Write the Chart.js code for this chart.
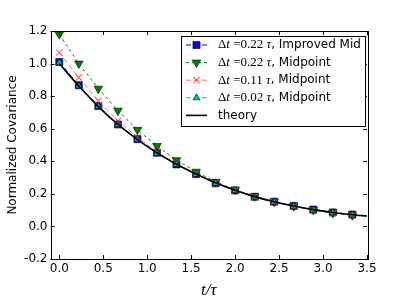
<!DOCTYPE html>
<html>
<head>
<meta charset="utf-8">
<script src="https://cdn.jsdelivr.net/npm/chart.js@4.4.1/dist/chart.umd.min.js"></script>
<style>
  html, body { margin: 0; padding: 0; background: #fff; }
  #wrap { width: 407px; height: 305px; }
</style>
</head>
<body>
<div id="wrap"><canvas id="cov-chart" width="407" height="305"></canvas></div>
<script>
// sample times (units of tau)
const tVals = [0, 0.222, 0.444, 0.667, 0.889, 1.111, 1.333, 1.556, 1.778, 2.0, 2.222, 2.444, 2.667, 2.889, 3.111, 3.333];

const improvedMid = [1.010, 0.867, 0.739, 0.626, 0.536, 0.452, 0.381, 0.321, 0.265, 0.221, 0.182, 0.152, 0.126, 0.103, 0.086, 0.073];
const midCoarse = [1.180, 1.000, 0.846, 0.711, 0.593, 0.494, 0.407, 0.336, 0.274, 0.226, 0.185, 0.152, 0.124, 0.101, 0.083, 0.068];
const midMedium = [1.068, 0.915, 0.771, 0.648, 0.547, 0.458, 0.385, 0.322, 0.266, 0.219, 0.180, 0.148, 0.121, 0.099, 0.082, 0.068];
const midFine = [1.005, 0.863, 0.737, 0.625, 0.533, 0.450, 0.380, 0.320, 0.265, 0.220, 0.181, 0.150, 0.124, 0.102, 0.085, 0.071];

const theoryT = [0, 0.222, 0.444, 0.667, 0.889, 1.111, 1.333, 1.556, 1.778, 2.0, 2.222, 2.444, 2.667, 2.889, 3.111, 3.333, 3.5];
const theory = [1.000, 0.862, 0.736, 0.626, 0.533, 0.452, 0.382, 0.322, 0.268, 0.222, 0.183, 0.151, 0.125, 0.103, 0.086, 0.072, 0.064];

const dtLabels = ["0.22", "0.22", "0.11", "0.02"];
const methods = ["Improved Mid", "Midpoint", "Midpoint", "Midpoint"];

const xTicks = [0, 0.5, 1.0, 1.5, 2.0, 2.5, 3.0, 3.5];
const yTicks = [-0.2, 0.0, 0.2, 0.4, 0.6, 0.8, 1.0, 1.2];

const pts = (xs, ys) => ys.map((y, i) => ({ x: xs[i], y: y }));

const series = [
  { vals: improvedMid, color: "#0000ff", fill: "#0000ff", style: "rect", radius: 5, rot: 0, dash: [5, 3] },
  { vals: midCoarse, color: "#008000", fill: "#008000", style: "triangle", radius: 5, rot: 180, dash: [3, 3] },
  { vals: midMedium, color: "rgba(255,60,60,0.75)", fill: "rgba(255,60,60,0.75)", style: "crossRot", radius: 4.5, rot: 0, dash: [5, 3] },
  { vals: midFine, color: "#00bfbf", fill: "#00bfbf", style: "triangle", radius: 4, rot: 0, dash: [5, 3] },
];

const datasets = series.map((s, i) => ({
  label: "Δt = " + dtLabels[i] + " τ, " + methods[i],
  data: pts(tVals, s.vals),
  borderColor: s.color,
  borderWidth: 1,
  borderDash: s.dash,
  backgroundColor: s.fill,
  pointStyle: s.style,
  pointRadius: s.radius,
  pointRotation: s.rot,
  pointBorderColor: s.style === "crossRot" ? s.color : "#000",
  pointBorderWidth: s.style === "crossRot" ? 1.2 : 0.6,
  pointBackgroundColor: s.fill,
  order: 4 - i,
  _legend: { dt: dtLabels[i], method: methods[i], s: s },
}));

datasets.push({
  label: "theory",
  data: pts(theoryT, theory),
  borderColor: "#000",
  borderWidth: 1.6,
  pointRadius: 0,
  cubicInterpolationMode: "monotone",
  order: 0,
});

// spines + inward ticks on all four sides
const frame = {
  id: "frame",
  afterDatasetsDraw(chart) {
    const { ctx, chartArea: a, scales } = chart;
    ctx.save();
    ctx.strokeStyle = "#000";
    ctx.lineWidth = 1;
    ctx.beginPath();
    xTicks.forEach(v => {
      const px = Math.round(scales.x.getPixelForValue(v)) + 0.5;
      ctx.moveTo(px, a.bottom); ctx.lineTo(px, a.bottom - 4);
      ctx.moveTo(px, a.top); ctx.lineTo(px, a.top + 4);
    });
    yTicks.forEach(v => {
      const py = Math.round(scales.y.getPixelForValue(v)) + 0.5;
      ctx.moveTo(a.left, py); ctx.lineTo(a.left + 4, py);
      ctx.moveTo(a.right, py); ctx.lineTo(a.right - 4, py);
    });
    ctx.stroke();
    ctx.strokeRect(Math.round(a.left) + 0.5, Math.round(a.top) + 0.5, Math.round(a.right - a.left), Math.round(a.bottom - a.top));
    ctx.restore();
  },
};

// legend with math text
const mathLegend = {
  id: "mathLegend",
  afterDraw(chart) {
    const ctx = chart.ctx;
    const bx = 181.5, by = 36.5, bw = 184, bh = 90;
    ctx.save();
    ctx.fillStyle = "#fff";
    ctx.fillRect(bx, by, bw, bh);
    ctx.strokeStyle = "#000";
    ctx.lineWidth = 1;
    ctx.strokeRect(bx, by, bw, bh);
    const serif = '"Liberation Serif", serif';
    const sans = '"DejaVu Sans", sans-serif';
    chart.data.datasets.forEach((ds, i) => {
      const y = 45 + i * 17.6;
      ctx.save();
      ctx.strokeStyle = ds.borderColor;
      ctx.lineWidth = ds.borderWidth;
      ctx.setLineDash(ds.borderDash || []);
      ctx.beginPath();
      ctx.moveTo(186, y); ctx.lineTo(207, y);
      ctx.stroke();
      ctx.setLineDash([]);
      if (ds.pointRadius > 0) {
        ctx.fillStyle = ds.pointBackgroundColor;
        ctx.strokeStyle = ds.pointBorderColor;
        ctx.lineWidth = ds.pointBorderWidth;
        Chart.helpers.drawPoint(ctx, {
          pointStyle: ds.pointStyle, radius: ds.pointRadius, rotation: ds.pointRotation, borderWidth: ds.pointBorderWidth,
        }, 196.5, y);
      }
      ctx.restore();
      ctx.fillStyle = "#000";
      ctx.textBaseline = "middle";
      ctx.textAlign = "left";
      let x = 218;
      const part = (txt, font) => {
        ctx.font = font;
        ctx.fillText(txt, x, y);
        x += ctx.measureText(txt).width;
      };
      if (ds._legend) {
        part("Δ", "13px " + serif);
        part("t", "italic 13px " + serif);
        part(" =", "13px " + serif);
        part(ds._legend.dt + " ", "13px " + serif);
        part("τ", "italic 13px " + serif);
        part(", " + ds._legend.method, "12px " + sans);
      } else {
        part(ds.label, "12px " + sans);
      }
    });
    ctx.restore();
  },
};

new Chart(document.getElementById("cov-chart"), {
  type: "line",
  data: { datasets: datasets },
  options: {
    responsive: false,
    animation: false,
    layout: { padding: { left: 0, right: 40, top: 31, bottom: 0 } },
    plugins: { legend: { display: false }, tooltip: { enabled: false } },
    scales: {
      x: {
        type: "linear",
        min: -0.1,
        max: 3.5,
        afterBuildTicks: s => { s.ticks = xTicks.map(v => ({ value: v })); },
        afterFit: s => { s.height = 46; },
        grid: { display: false, drawTicks: false },
        border: { display: false },
        ticks: {
          color: "#000",
          font: { family: "DejaVu Sans", size: 12 },
          padding: 3,
          maxRotation: 0,
          callback: v => v.toFixed(1),
        },
        title: {
          display: true,
          text: "t/τ",
          color: "#000",
          font: { family: "Liberation Serif", style: "italic", size: 17 },
          padding: { top: 0, bottom: 4 },
        },
      },
      y: {
        min: -0.2,
        max: 1.2,
        afterBuildTicks: s => { s.ticks = yTicks.map(v => ({ value: v })); },
        afterFit: s => { s.width = 50.5; },
        grid: { display: false, drawTicks: false },
        border: { display: false },
        ticks: {
          color: "#000",
          font: { family: "DejaVu Sans", size: 12 },
          padding: 3,
          callback: v => v.toFixed(1),
        },
        title: {
          display: true,
          text: "Normalized Covariance",
          color: "#000",
          font: { family: "DejaVu Sans", size: 12 },
          padding: { top: 6, bottom: 0 },
        },
      },
    },
  },
  plugins: [frame, mathLegend],
});
</script>
</body>
</html>
